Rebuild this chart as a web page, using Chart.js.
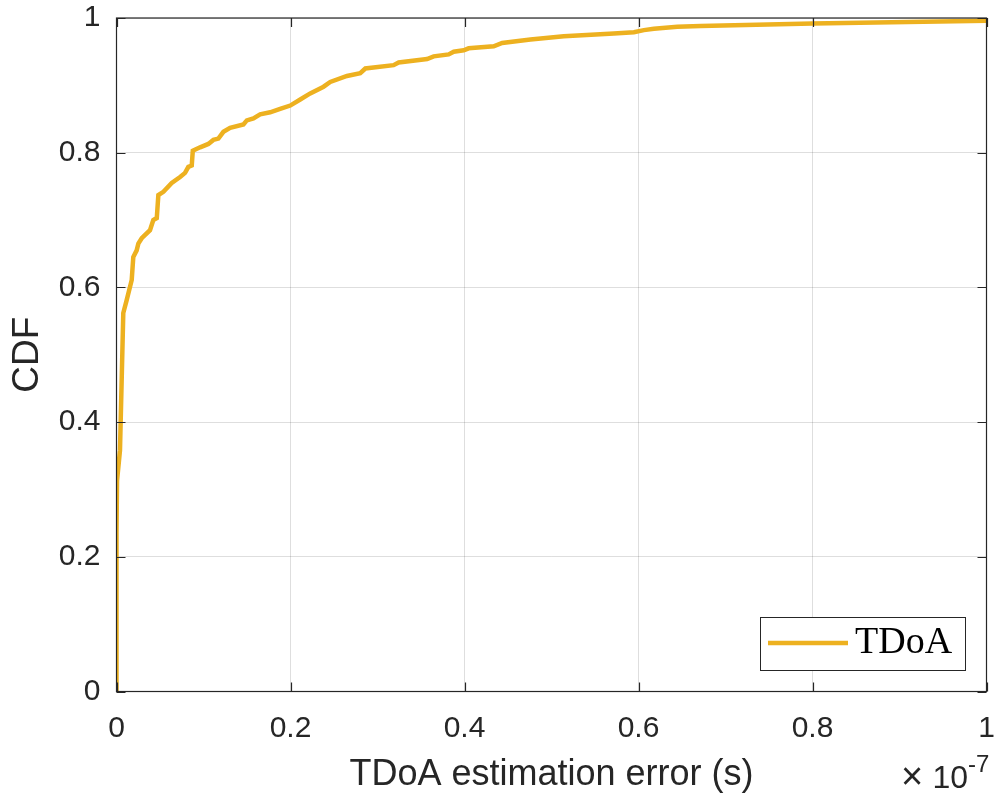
<!DOCTYPE html>
<html>
<head>
<meta charset="utf-8">
<script src="https://cdn.jsdelivr.net/npm/chart.js@4"></script>
<style>
  html, body { margin: 0; padding: 0; background: #fff; }
  #wrap { width: 995px; height: 797px; }
</style>
</head>
<body>
<div id="wrap"><canvas id="cdfChart" width="995" height="797"></canvas></div>
<script>
// TDoA estimation error, in units of 1e-7 s
const errorE7 = [0, 0, 0.0006, 0.004, 0.0078, 0.0117, 0.0175, 0.0193, 0.0232, 0.0251, 0.029,
  0.0385, 0.0423, 0.0463, 0.0481, 0.0539, 0.0635, 0.0731, 0.0788, 0.0826, 0.0865, 0.0877,
  0.0961, 0.1056, 0.1114, 0.1171, 0.1229, 0.1306, 0.1459, 0.1498, 0.1574, 0.1651, 0.1766,
  0.1881, 0.1997, 0.2112, 0.2227, 0.238, 0.2457, 0.2649, 0.2802, 0.286, 0.3185, 0.3243,
  0.357, 0.3646, 0.3818, 0.3876, 0.3991, 0.4048, 0.4336, 0.4433, 0.4758, 0.5141, 0.5717,
  0.5947, 0.6062, 0.6177, 0.6446, 0.6715, 0.80, 1.0];
const cdfValues = [0, 0.235, 0.313, 0.358, 0.562, 0.581, 0.611, 0.645, 0.655, 0.665, 0.673,
  0.685, 0.700, 0.703, 0.737, 0.742, 0.755, 0.764, 0.770, 0.779, 0.781, 0.803,
  0.808, 0.813, 0.819, 0.821, 0.831, 0.837, 0.842, 0.848, 0.851, 0.857, 0.860,
  0.865, 0.870, 0.879, 0.888, 0.898, 0.905, 0.914, 0.918, 0.925, 0.930, 0.934,
  0.939, 0.943, 0.946, 0.950, 0.952, 0.955, 0.958, 0.963, 0.968, 0.973, 0.977,
  0.979, 0.982, 0.984, 0.987, 0.988, 0.992, 0.996];
const xTicks = [0, 0.2, 0.4, 0.6, 0.8, 1];
const yTicks = [0, 0.2, 0.4, 0.6, 0.8, 1];
const seriesName = 'TDoA';

const axisColor = '#262626';
const lineColor = '#EDB120';
const sans = '"Liberation Sans", Arial, Helvetica, sans-serif';

// inside tick marks, box frame, legend and exponent label
const matlabAxes = {
  id: 'matlabAxes',
  afterDraw(chart) {
    const ctx = chart.ctx;
    const a = chart.chartArea;
    const xs = chart.scales.x, ys = chart.scales.y;
    ctx.save();
    ctx.strokeStyle = axisColor;
    ctx.lineWidth = 1.2;
    ctx.strokeRect(a.left, a.top, a.right - a.left, a.bottom - a.top);
    ctx.beginPath();
    xTicks.forEach(v => {
      const px = Math.round(xs.getPixelForValue(v)) + 0.5;
      ctx.moveTo(px, a.bottom); ctx.lineTo(px, a.bottom - 9);
      ctx.moveTo(px, a.top); ctx.lineTo(px, a.top + 9);
    });
    yTicks.forEach(v => {
      const py = Math.round(ys.getPixelForValue(v)) + 0.5;
      ctx.moveTo(a.left, py); ctx.lineTo(a.left + 9, py);
      ctx.moveTo(a.right, py); ctx.lineTo(a.right - 9, py);
    });
    ctx.stroke();

    // legend
    const lx = 760, ly = 617, lw = 205, lh = 53;
    ctx.fillStyle = '#fff';
    ctx.fillRect(lx, ly, lw, lh);
    ctx.strokeStyle = axisColor;
    ctx.lineWidth = 1;
    ctx.strokeRect(lx + 0.5, ly + 0.5, lw, lh);
    ctx.strokeStyle = lineColor;
    ctx.lineWidth = 4.5;
    ctx.beginPath();
    ctx.moveTo(768, 643); ctx.lineTo(848, 643);
    ctx.stroke();
    ctx.fillStyle = '#000';
    ctx.font = '38px "Liberation Serif", "DejaVu Serif", serif';
    ctx.textBaseline = 'alphabetic';
    ctx.textAlign = 'left';
    ctx.fillText(seriesName, 855, 653);

    // exponent  x10^-7
    ctx.fillStyle = axisColor;
    ctx.font = '38px ' + sans;
    ctx.fillText('\u00d7', 901, 789);
    ctx.font = '32px ' + sans;
    ctx.textAlign = 'right';
    ctx.fillText('10', 968, 788);
    ctx.textAlign = 'left';
    ctx.font = '24px ' + sans;
    ctx.fillText('-7', 968, 772);
    ctx.restore();
  }
};

const ctx = document.getElementById('cdfChart').getContext('2d');
new Chart(ctx, {
  type: 'line',
  data: {
    datasets: [{
      label: seriesName,
      data: errorE7.map((x, i) => ({ x: x, y: cdfValues[i] })),
      borderColor: lineColor,
      backgroundColor: lineColor,
      borderWidth: 4.5,
      pointRadius: 0,
      tension: 0,
      fill: false
    }]
  },
  options: {
    responsive: false,
    animation: false,
    layout: { padding: { left: 0, top: 18, right: 8.5, bottom: 0 } },
    plugins: {
      legend: { display: false },
      tooltip: { enabled: false }
    },
    scales: {
      x: {
        type: 'linear',
        min: 0,
        max: 1,
        afterFit: s => { s.height = 105.5; s.paddingLeft = 0; s.paddingRight = 0; },
        afterBuildTicks: s => { s.ticks = xTicks.map(v => ({ value: v })); },
        grid: { color: 'rgba(0,0,0,0.13)', drawTicks: false },
        border: { display: false },
        ticks: {
          color: axisColor,
          padding: 19,
          maxRotation: 0,
          font: { family: sans, size: 30 },
          callback: v => String(v)
        },
        title: {
          display: true,
          text: 'TDoA estimation error (s)',
          color: axisColor,
          padding: { top: 0, bottom: 0 },
          font: { family: sans, size: 36 }
        }
      },
      y: {
        min: 0,
        max: 1,
        afterFit: s => { s.width = 116.5; s.paddingTop = 0; s.paddingBottom = 0; },
        afterBuildTicks: s => { s.ticks = yTicks.map(v => ({ value: v })); },
        grid: { color: 'rgba(0,0,0,0.13)', drawTicks: false },
        border: { display: false },
        ticks: {
          color: axisColor,
          padding: 16,
          font: { family: sans, size: 30 },
          callback: v => String(v)
        },
        title: {
          display: true,
          text: 'CDF',
          color: axisColor,
          padding: { top: 6, bottom: 0 },
          font: { family: sans, size: 37 }
        }
      }
    }
  },
  plugins: [matlabAxes]
});
</script>
</body>
</html>
